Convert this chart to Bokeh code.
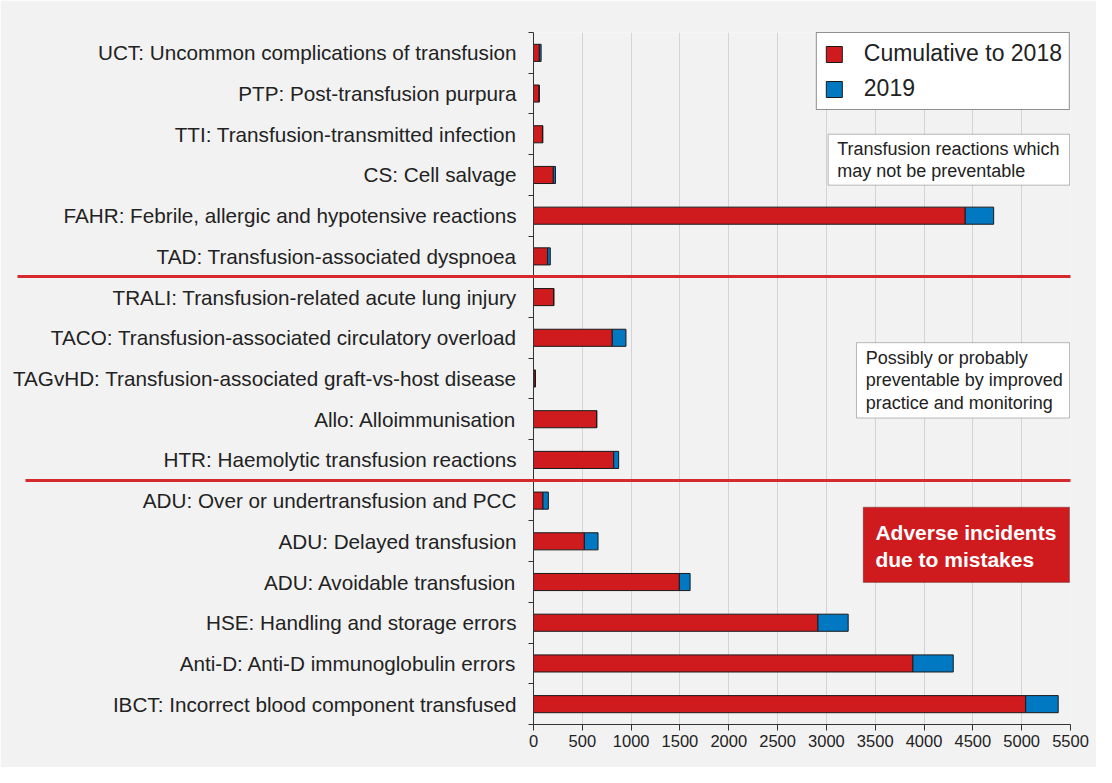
from bokeh.plotting import figure
from bokeh.models import Range1d, FixedTicker, BoxAnnotation, Label, ColumnDataSource, Legend, LinearAxis
from bokeh.embed import file_html
from bokeh.resources import INLINE

categories = [
    "UCT: Uncommon complications of transfusion",
    "PTP: Post-transfusion purpura",
    "TTI: Transfusion-transmitted infection",
    "CS: Cell salvage",
    "FAHR: Febrile, allergic and hypotensive reactions",
    "TAD: Transfusion-associated dyspnoea",
    "TRALI: Transfusion-related acute lung injury",
    "TACO: Transfusion-associated circulatory overload",
    "TAGvHD: Transfusion-associated graft-vs-host disease",
    "Allo: Alloimmunisation",
    "HTR: Haemolytic transfusion reactions",
    "ADU: Over or undertransfusion and PCC",
    "ADU: Delayed transfusion",
    "ADU: Avoidable transfusion",
    "HSE: Handling and storage errors",
    "Anti-D: Anti-D immunoglobulin errors",
    "IBCT: Incorrect blood component transfused",
]
cumulative_to_2018 = [60, 58, 92, 203, 4422, 145, 207, 807, 18, 647, 821, 97, 521, 1494, 2913, 3886, 5041]
values_2019 = [18, 0, 4, 22, 291, 27, 0, 140, 0, 0, 51, 55, 140, 110, 310, 413, 333]
group_sizes = [6, 5, 6]
x_ticks = [0, 500, 1000, 1500, 2000, 2500, 3000, 3500, 4000, 4500, 5000, 5500]
series_names = ["Cumulative to 2018", "2019"]

RED = "#cf1a1e"
BLUE = "#0079c2"
SEP = "#d42a2e"
BG = "#f2f2f2"
TXT = "#222222"
FONT = "Liberation Sans"

n = len(categories)
pos = [n - 0.5 - i for i in range(n)]
source = ColumnDataSource(dict(pos=pos, cum=cumulative_to_2018, y2019=values_2019))

p = figure(width=1096, height=767, x_range=Range1d(0, 5500), y_range=Range1d(0, n),
           output_backend="svg", toolbar_location=None,
           min_border_left=533, min_border_right=26, min_border_top=32, min_border_bottom=43,
           background_fill_color=BG, border_fill_color=BG, outline_line_color=None)

rs = p.hbar_stack(["cum", "y2019"], y="pos", height=0.42, source=source,
                  fill_color=[RED, BLUE], line_color="#1a1a1a", line_width=1)

# grid
p.ygrid.visible = False
p.xgrid.ticker = FixedTicker(ticks=x_ticks)
p.xgrid.grid_line_color = "#d4d4d4"
p.xgrid.grid_line_width = 1

# x axis
p.xaxis.ticker = FixedTicker(ticks=x_ticks)
p.xaxis.axis_line_color = "#333333"
p.xaxis.major_tick_line_color = "#333333"
p.xaxis.major_tick_out = 6
p.xaxis.major_tick_in = 0
p.xaxis.minor_tick_line_color = None
p.xaxis.major_label_text_font = FONT
p.xaxis.major_label_text_font_size = "16.5px"
p.xaxis.major_label_text_color = TXT
p.xaxis.major_label_standoff = 4

# y axis
boundaries = list(range(n + 1))
p.yaxis.ticker = FixedTicker(ticks=pos, minor_ticks=boundaries)
p.yaxis.major_label_overrides = {pv: c for pv, c in zip(pos, categories)}
p.yaxis.axis_line_color = "#333333"
p.yaxis.major_tick_out = 0
p.yaxis.major_tick_in = 0
p.yaxis.minor_tick_out = 5
p.yaxis.minor_tick_in = 0
p.yaxis.minor_tick_line_color = "#333333"
p.yaxis.major_label_text_font = FONT
p.yaxis.major_label_text_font_size = "20.7px"
p.yaxis.major_label_text_color = TXT
p.yaxis.major_label_standoff = 12

# separator lines between groups, drawn as long ticks of an extra, label-less axis
sep_positions = []
acc = 0
for g in group_sizes[:-1]:
    acc += g
    sep_positions.append(n - acc)

sep_axis = LinearAxis(ticker=FixedTicker(ticks=[sep_positions[0]], minor_ticks=[sep_positions[1]]),
                      axis_line_color=None,
                      major_tick_in=1061, major_tick_out=-8,
                      minor_tick_in=1061, minor_tick_out=-16,
                      major_tick_line_color=SEP, major_tick_line_width=3,
                      minor_tick_line_color=SEP, minor_tick_line_width=3,
                      major_label_overrides={sep_positions[0]: ""},
                      major_label_text_font_size="1px", major_label_standoff=0)
p.add_layout(sep_axis, "left")

# annotation boxes
p.add_layout(BoxAnnotation(left=3018, right=5490, top=14.50, bottom=13.25,
                           fill_color="white", fill_alpha=1, line_color="#222222", line_width=1))
p.add_layout(BoxAnnotation(left=3308, right=5490, top=9.38, bottom=7.53,
                           fill_color="white", fill_alpha=1, line_color="#222222", line_width=1))
p.add_layout(BoxAnnotation(left=3377, right=5490, top=5.34, bottom=3.49,
                           fill_color=RED, fill_alpha=1, line_color="#222222", line_width=1))

for txt, yy in [("Transfusion reactions which", 14.13), ("may not be preventable", 13.60)]:
    p.add_layout(Label(x=3110, y=yy, text=txt, text_font=FONT, text_font_size="18px",
                       text_color=TXT, text_baseline="middle"))
for txt, yy in [("Possibly or probably", 9.015), ("preventable by improved", 8.457),
                ("practice and monitoring", 7.909)]:
    p.add_layout(Label(x=3403, y=yy, text=txt, text_font=FONT, text_font_size="18px",
                       text_color=TXT, text_baseline="middle"))
for txt, yy in [("Adverse incidents", 4.715), ("due to mistakes", 4.06)]:
    p.add_layout(Label(x=3502, y=yy, text=txt, text_font=FONT, text_font_size="21px",
                       text_font_style="bold", text_color="white", text_baseline="middle"))

legend = Legend(items=[(series_names[0], [rs[0]]), (series_names[1], [rs[1]])],
                location="top_right", margin=0, padding=7, spacing=8,
                glyph_width=20, glyph_height=20, label_height=26, label_standoff=20,
                label_text_font=FONT, label_text_font_size="23px", label_text_color=TXT,
                border_line_color="#222222", border_line_width=1,
                background_fill_color="white", background_fill_alpha=1)
p.add_layout(legend)

open("out.html", "w").write(file_html(p, INLINE))
